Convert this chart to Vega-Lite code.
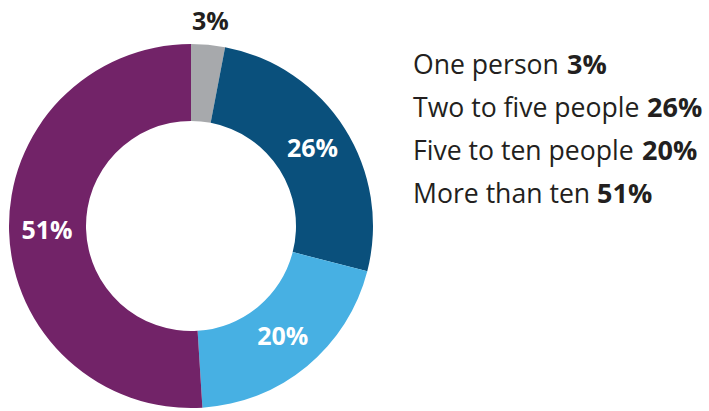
{
  "$schema": "https://vega.github.io/schema/vega-lite/v6.json",
  "padding": {"left": 9, "top": 9, "right": 0, "bottom": 1},
  "background": "white",
  "config": {"view": {"stroke": null}, "font": "Open Sans"},
  "data": {"values": [
    {"idx": 1, "category": "One person", "pct": 3, "label": "3%"},
    {"idx": 2, "category": "Two to five people", "pct": 26, "label": "26%"},
    {"idx": 3, "category": "Five to ten people", "pct": 20, "label": "20%"},
    {"idx": 4, "category": "More than ten", "pct": 51, "label": "51%"}
  ]},
  "spacing": 40,
  "hconcat": [
    {
      "width": 364,
      "height": 364,
      "encoding": {
        "theta": {"field": "pct", "type": "quantitative", "stack": true},
        "order": {"field": "idx", "type": "quantitative"}
      },
      "layer": [
        {
          "mark": {"type": "arc", "innerRadius": 105, "outerRadius": 182},
          "encoding": {
            "color": {
              "field": "category",
              "type": "nominal",
              "scale": {
                "domain": ["One person", "Two to five people", "Five to ten people", "More than ten"],
                "range": ["#A7A9AC", "#0A507C", "#47B0E3", "#722368"]
              },
              "legend": null
            }
          }
        },
        {
          "mark": {"type": "text", "radius": {"expr": "datum.idx == 1 ? 205 : 144"}, "font": "Open Sans", "fontWeight": "bold", "fontSize": 25, "baseline": "middle"},
          "encoding": {
            "text": {"field": "label", "type": "nominal"},
            "color": {"condition": {"test": "datum.idx == 1", "value": "#231F20"}, "value": "white"}
          }
        }
      ]
    },
    {
      "width": 296,
      "height": 172,
      "encoding": {
        "y": {"field": "idx", "type": "ordinal", "axis": null, "scale": {"type": "point", "padding": 0.5}},
        "x": {"datum": 0, "type": "quantitative", "axis": null, "scale": {"domain": [0, 1]}}
      },
      "layer": [
        {
          "mark": {"type": "text", "align": "left", "baseline": "middle", "font": "Open Sans", "fontSize": 26.6, "fill": "#231F20"},
          "encoding": {"text": {"field": "category", "type": "nominal"}}
        },
        {
          "transform": [{"filter": "datum.idx == 1"}],
          "mark": {"type": "text", "align": "left", "baseline": "middle", "font": "Open Sans", "fontWeight": "bold", "fontSize": 27, "fill": "#231F20", "dx": 154},
          "encoding": {"text": {"field": "label", "type": "nominal"}}
        },
        {
          "transform": [{"filter": "datum.idx == 2"}],
          "mark": {"type": "text", "align": "left", "baseline": "middle", "font": "Open Sans", "fontWeight": "bold", "fontSize": 27, "fill": "#231F20", "dx": 234},
          "encoding": {"text": {"field": "label", "type": "nominal"}}
        },
        {
          "transform": [{"filter": "datum.idx == 3"}],
          "mark": {"type": "text", "align": "left", "baseline": "middle", "font": "Open Sans", "fontWeight": "bold", "fontSize": 27, "fill": "#231F20", "dx": 229},
          "encoding": {"text": {"field": "label", "type": "nominal"}}
        },
        {
          "transform": [{"filter": "datum.idx == 4"}],
          "mark": {"type": "text", "align": "left", "baseline": "middle", "font": "Open Sans", "fontWeight": "bold", "fontSize": 27, "fill": "#231F20", "dx": 184},
          "encoding": {"text": {"field": "label", "type": "nominal"}}
        }
      ]
    }
  ]
}
